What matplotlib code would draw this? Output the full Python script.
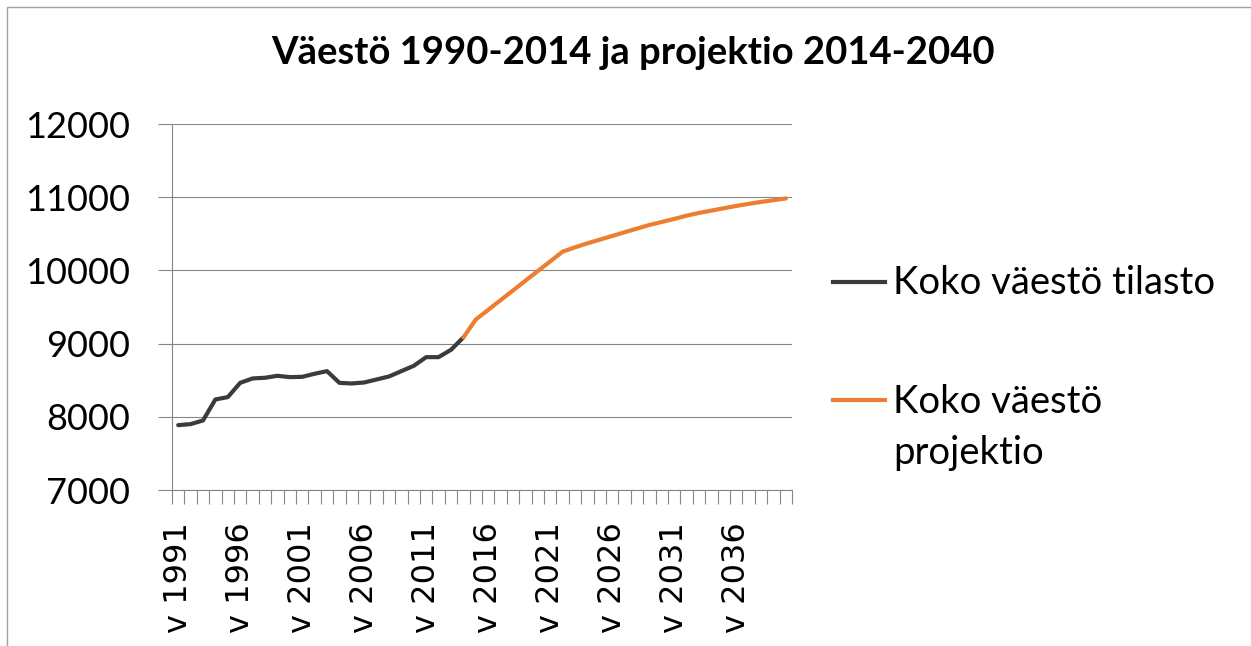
import numpy as np
import matplotlib
matplotlib.use('Agg')
import matplotlib.pyplot as plt
from matplotlib.lines import Line2D
from matplotlib.patches import Rectangle

YEARS = ['v %d' % y for y in range(1991, 2041)]

# Koko väestö tilasto, v 1991 - v 2014
TILASTO = [7886, 7900, 7950, 8237, 8269, 8464, 8524, 8533, 8560, 8542,
           8546, 8588, 8624, 8464, 8455, 8469, 8510, 8551, 8624, 8697,
           8815, 8815, 8915, 9085]

# Koko väestö projektio, v 2014 - v 2040
PROJEKTIO = [9085, 9329, 9461, 9594, 9726, 9859, 9991, 10123, 10256,
             10315, 10370, 10420, 10470, 10521, 10571, 10621, 10662, 10703,
             10748, 10785, 10817, 10849, 10881, 10909, 10936, 10959, 10982]

Y_TICKS = [7000, 8000, 9000, 10000, 11000, 12000]

GRAY = '#868686'
BLACK_LINE = '#3b3b3b'
ORANGE = '#ED7D31'
FONT = 'Lato'


def create_graphic():
    n = len(YEARS)
    x = np.arange(n)
    tilasto = np.full(n, np.nan)
    tilasto[:len(TILASTO)] = TILASTO
    projektio = np.full(n, np.nan)
    projektio[n - len(PROJEKTIO):] = PROJEKTIO

    fig = plt.figure(figsize=(12.51, 6.46), dpi=100)
    ax = fig.add_axes([172 / 1251, 1 - 490 / 646, 620 / 1251, 366 / 646])

    ax.plot(x, tilasto, color=BLACK_LINE, lw=3, solid_joinstyle='round',
            solid_capstyle='round')
    ax.plot(x, projektio, color=ORANGE, lw=3, solid_joinstyle='round',
            solid_capstyle='round')

    ax.set_xlim(-0.5, n - 0.5)
    ax.set_ylim(7000, 12000)
    ax.set_yticks(Y_TICKS)
    ax.set_yticklabels([str(v) for v in Y_TICKS], fontfamily=FONT, fontsize=26)
    ax.set_xticks(x[::5])
    ax.set_xticklabels(YEARS[::5], rotation=90, fontsize=23,
                       fontfamily='DejaVu Sans')
    ax.set_xticks(np.arange(-0.5, n, 1), minor=True)

    ax.tick_params(axis='x', which='major', length=0, pad=23)
    ax.tick_params(axis='x', which='minor', length=10, width=0.8, color=GRAY)
    ax.tick_params(axis='y', length=10, width=0.8, color=GRAY, pad=20)

    ax.grid(axis='y', color=GRAY, lw=0.8)
    ax.set_axisbelow(True)
    for side in ['top', 'right']:
        ax.spines[side].set_visible(False)
    for side in ['left', 'bottom']:
        ax.spines[side].set_color(GRAY)
        ax.spines[side].set_linewidth(0.8)

    fig.text(633 / 1251, 1 - 64 / 646, 'Väestö 1990-2014 ja projektio 2014-2040',
             ha='center', va='baseline', fontfamily=FONT, fontweight='bold',
             fontsize=27.5)

    # legend drawn by hand so the line sits at the first text row
    legend_rows = [(282, 294, BLACK_LINE, ['Koko väestö tilasto']),
                   (400, 413, ORANGE, ['Koko väestö', 'projektio'])]
    for line_y, base_y, color, rows in legend_rows:
        fig.add_artist(Line2D([833 / 1251, 885 / 1251],
                              [1 - line_y / 646, 1 - line_y / 646],
                              color=color, lw=3, transform=fig.transFigure))
        for i, row in enumerate(rows):
            fig.text(893 / 1251, 1 - (base_y + 51 * i) / 646, row,
                     va='baseline', fontfamily=FONT, fontsize=27.5)

    fig.add_artist(Rectangle((7 / 1251, -0.1), 1.2, 1.1 - 7 / 646,
                             transform=fig.transFigure, fill=False,
                             edgecolor='#a0a0a0', lw=1))

    fig.savefig('out.png', dpi=100)


if __name__ == '__main__':
    create_graphic()
